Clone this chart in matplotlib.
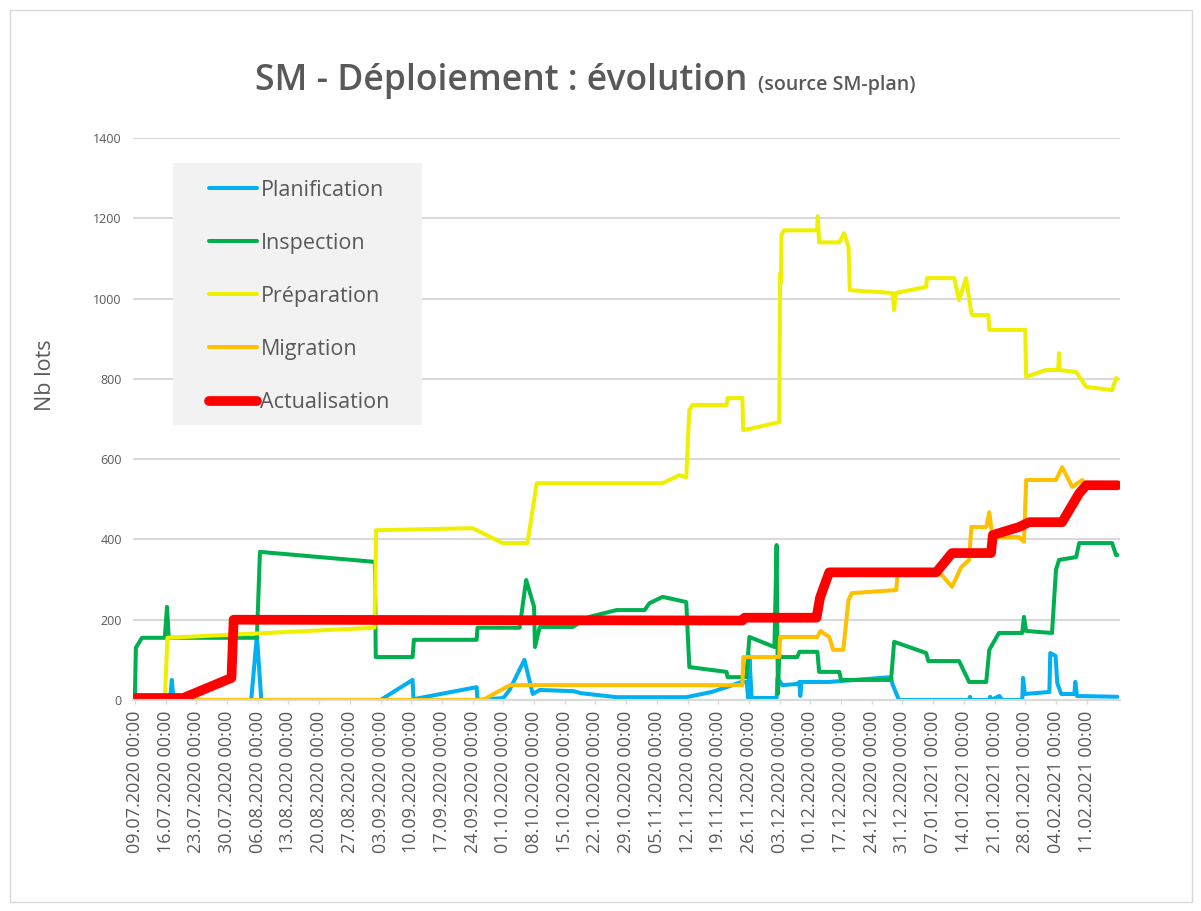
import numpy as np
import pandas as pd
import matplotlib
matplotlib.use("Agg")
import matplotlib.pyplot as plt
import matplotlib.dates as mdates
from matplotlib.patches import Rectangle

plt.rcParams["font.family"] = ["Open Sans", "DejaVu Sans"]

# Données : (jours depuis le 09.07.2020, nb lots)
START = pd.Timestamp("2020-07-09")
week_ticks = pd.date_range("2020-07-09", "2021-02-11", freq="7D")

planification = [
    (0, 0), (8.0, 0), (8.4, 50), (8.8, 0), (26.5, 0), (27.8, 160), (28.8, 0),
    (56.0, 0), (63.3, 50), (63.5, 2), (77.9, 32), (78.1, 0), (84.0, 5),
    (85.4, 25), (88.8, 100), (90.7, 15), (92.3, 25), (100.0, 22), (101.7, 17),
    (109.8, 7), (125.7, 7), (131.5, 20), (134.9, 32), (138.3, 45), (139.5, 45),
    (139.8, 5), (140.1, 110), (140.6, 5), (146.3, 5), (146.5, 55), (147.6, 37),
    (151.0, 40), (151.5, 45), (151.7, 10), (152.0, 45), (158.3, 45),
    (172.4, 57), (172.7, 40), (174.2, 0), (190.2, 0), (190.4, 8), (190.6, 0),
    (194.8, 0), (195.0, 8), (195.2, 0), (197.1, 10), (197.7, 0), (202.3, 0),
    (202.5, 55), (202.9, 15), (208.5, 20), (208.7, 117), (209.9, 110),
    (210.3, 42), (211.2, 15), (214.2, 15), (214.4, 45), (214.8, 10), (224.0, 8),
]

inspection = [
    (0, 17), (0.2, 130), (1.6, 155), (6.8, 155), (7.3, 232), (7.7, 155),
    (27.8, 155), (28.5, 369), (54.7, 344), (54.9, 107), (63.3, 107),
    (63.6, 150), (77.9, 150), (78.1, 180), (87.7, 180), (89.2, 299),
    (91.0, 232), (91.2, 132), (92.3, 182), (99.8, 182), (103.6, 207),
    (109.8, 224), (116.2, 224), (117.3, 241), (120.3, 257), (125.7, 244),
    (126.4, 82), (134.9, 70), (135.1, 57), (139.4, 57), (140.1, 157),
    (145.8, 132), (146.3, 386), (146.6, 15), (146.9, 110), (147.6, 107),
    (151.0, 107), (151.5, 120), (155.6, 120), (156.0, 70), (160.6, 70),
    (161.0, 50), (172.4, 50), (173.1, 145), (180.4, 117), (180.9, 97),
    (187.9, 97), (190.2, 45), (194.1, 45), (194.8, 125), (197.0, 167),
    (202.3, 167), (202.7, 207), (203.2, 172), (209.1, 167), (210.0, 324),
    (210.7, 349), (214.6, 356), (215.3, 391), (222.8, 391), (223.7, 361),
    (224.0, 361),
]

preparation = [
    (0, 0), (6.8, 0), (7.4, 155), (54.6, 180), (55.0, 423), (77.0, 428),
    (83.8, 391), (89.5, 391), (91.6, 540), (120.3, 540), (124.1, 560),
    (125.7, 555), (126.4, 722), (127.1, 735), (134.9, 735), (135.1, 752),
    (138.5, 752), (138.7, 672), (146.9, 692), (147.1, 1063), (147.3, 1040),
    (147.4, 1158), (148.0, 1170), (155.5, 1170), (155.7, 1205), (156.0, 1140),
    (160.6, 1140), (161.7, 1163), (162.7, 1128), (163.0, 1021), (172.7, 1014),
    (173.1, 971), (173.5, 1014), (180.4, 1029), (180.6, 1051), (186.8, 1051),
    (187.9, 996), (189.5, 1051), (190.7, 964), (190.9, 959), (194.6, 959),
    (194.8, 922), (203.0, 922), (203.2, 805), (207.7, 822), (210.5, 822),
    (210.7, 864), (210.9, 822), (214.6, 817), (216.9, 780), (222.8, 772),
    (223.7, 802), (224.0, 800),
]

migration = [
    (0, 0), (79.3, 0), (85.5, 37), (138.5, 37), (138.7, 107), (146.9, 107),
    (147.1, 157), (155.6, 157), (156.3, 172), (158.3, 157), (159.2, 125),
    (161.5, 125), (162.7, 249), (163.4, 266), (173.6, 274), (173.9, 318),
    (182.7, 318), (183.6, 316), (186.3, 282), (188.4, 331), (190.2, 349),
    (190.7, 431), (194.1, 431), (194.8, 468), (195.5, 406), (201.6, 406),
    (202.7, 394), (203.2, 548), (210.0, 548), (211.4, 580), (213.7, 531),
    (216.0, 548), (217.0, 535), (224.0, 535),
]

actualisation = [
    (0, 5), (11.0, 5), (22.0, 55), (22.5, 200), (138.5, 198), (139.0, 205),
    (155.4, 205), (156.2, 255), (158.3, 318), (182.7, 318), (186.3, 366),
    (195.2, 366), (195.6, 411), (201.6, 431), (203.9, 443), (211.4, 443),
    (215.3, 515), (216.9, 535), (224.0, 535),
]

series = [
    ("Planification", planification, "#00B0F0", 2.9),
    ("Inspection", inspection, "#00B050", 2.9),
    ("Préparation", preparation, "#EEF000", 2.9),
    ("Migration", migration, "#FFC000", 2.9),
    ("Actualisation", actualisation, "#FF0000", 7.0),
]


def to_dates(pts):
    arr = np.array(pts, dtype=float)
    dates = (START + pd.to_timedelta(arr[:, 0], unit="D")).to_numpy()
    return dates, arr[:, 1]


W, H = 1201, 911
fig = plt.figure(figsize=(W / 100, H / 100), dpi=100)
ax = fig.add_axes([133 / W, 1 - 700 / H, (1120 - 133) / W, (700 - 138) / H])

for name, pts, color, lw in series:
    x, y = to_dates(pts)
    ax.plot(x, y, color=color, lw=lw, label=name,
            solid_joinstyle="round", solid_capstyle="round")

ax.set_ylim(0, 1400)
ax.set_yticks(np.arange(0, 1401, 200))
ax.set_xlim((START - pd.Timedelta(days=0.45)).to_numpy(),
            (START + pd.Timedelta(days=224.6)).to_numpy())
ax.set_xticks(week_ticks.to_numpy())
ax.xaxis.set_major_formatter(mdates.DateFormatter("%d.%m.%Y %H:%M"))

grey = "#595959"
ax.yaxis.grid(True, color="#d9d9d9", lw=1.5)
ax.set_axisbelow(True)
for side in ["left", "top", "right"]:
    ax.spines[side].set_visible(False)
ax.spines["bottom"].set_color("#d9d9d9")
ax.spines["bottom"].set_linewidth(1.5)

ax.tick_params(axis="y", length=0, pad=8, labelsize=9, labelcolor=grey)
ax.tick_params(axis="x", direction="out", length=3, width=1, color="#d9d9d9",
               pad=5, labelsize=13, labelcolor=grey, labelrotation=90)

ax.set_ylabel("Nb lots", fontsize=15.5, color=grey)
ax.yaxis.set_label_coords(-0.078, 0.578)

# titre
fig.text(255 / W, 1 - 90 / H, "SM - Déploiement : évolution", fontsize=25.6,
         fontweight="semibold", color=grey, va="baseline", ha="left")
fig.text(758 / W, 1 - 90 / H, "(source SM-plan)", fontsize=14,
         fontweight="semibold", color=grey, va="baseline", ha="left")

# fond de la légende
ax.add_patch(Rectangle((173 / W, 1 - 425 / H), 249 / W, 262 / H,
                       transform=fig.transFigure, facecolor="#f2f2f2",
                       edgecolor="none", zorder=3, clip_on=False))
ax.legend(loc="upper left", bbox_to_anchor=(198 / W, 1 - 169 / H),
          bbox_transform=fig.transFigure, frameon=False, borderpad=0,
          fontsize=15.5, handlelength=2.25, handletextpad=0.15,
          labelspacing=1.49, labelcolor=grey)

# cadre du graphique
fig.add_artist(Rectangle((10 / W, 1 - 902 / H), 1182 / W, 892 / H,
                         transform=fig.transFigure, fill=False,
                         edgecolor="#d9d9d9", lw=1))

fig.savefig("out.png", dpi=100)
